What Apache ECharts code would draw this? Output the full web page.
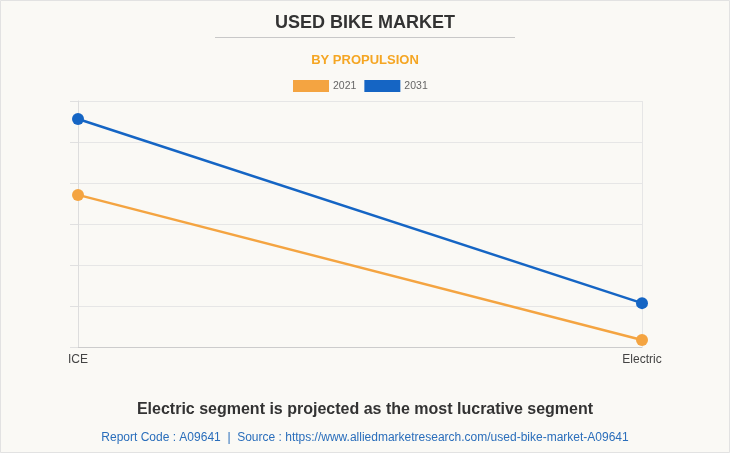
<!DOCTYPE html>
<html><head><meta charset="utf-8">
<script src="https://cdn.jsdelivr.net/npm/echarts@6/dist/echarts.min.js"></script>
<style>html,body{margin:0;padding:0;background:#faf9f5;}#c{width:730px;height:453px;}</style>
</head><body><div id="c"></div>
<script>
const categories = ['ICE', 'Electric'];
const seriesNames = ['2021', '2031'];
const values2021 = [37.1, 1.7];
const values2031 = [55.6, 10.7];
const colors = ['#f4a441', '#1565c4'];

const chart = echarts.init(document.getElementById('c'), null, {renderer: 'canvas'});
chart.setOption({
  backgroundColor: '#faf9f5',
  animation: false,
  title: [
    {text: 'USED BIKE MARKET', left: 'center', top: 9,
     textStyle: {fontFamily: 'Arial, Liberation Sans', fontSize: 18, fontWeight: 'bold', color: '#333'}},
    {text: 'BY PROPULSION', left: 'center', top: 49,
     textStyle: {fontFamily: 'Arial, Liberation Sans', fontSize: 13, fontWeight: 'bold', color: '#f5a623'}},
    {text: 'Electric segment is projected as the most lucrative segment', left: 'center', top: 397,
     textStyle: {fontFamily: 'Arial, Liberation Sans', fontSize: 16, fontWeight: 'bold', color: '#333'}},
    {text: 'Report Code : A09641  |  Source : https://www.alliedmarketresearch.com/used-bike-market-A09641', left: 'center', top: 427,
     textStyle: {fontFamily: 'Arial, Liberation Sans', fontSize: 12, fontWeight: 'normal', color: '#2a6ebb'}}
  ],
  graphic: [
    {type: 'rect', shape: {x: 0.5, y: 0.5, width: 729, height: 452}, style: {fill: 'none', stroke: '#e2e2e2', lineWidth: 1}, silent: true},
    {type: 'line', shape: {x1: 215, y1: 37.5, x2: 515, y2: 37.5}, style: {stroke: '#c8c8c8', lineWidth: 1}}
  ],
  legend: {
    top: 75, left: 288, itemWidth: 36, itemHeight: 12, itemGap: 8,
    icon: 'rect',
    textStyle: {fontFamily: 'Arial, Liberation Sans', fontSize: 10.5, color: '#666', padding: [0, 0, 0, -1]},
    data: seriesNames
  },
  grid: {left: 78, right: 88, top: 101, bottom: 106},
  xAxis: {
    type: 'category', data: categories, boundaryGap: false,
    axisLine: {show: true, lineStyle: {color: '#ccc'}},
    axisTick: {show: false},
    axisLabel: {fontFamily: 'Arial, Liberation Sans', fontSize: 12, color: '#444', margin: 7},
    splitLine: {show: true, lineStyle: {color: '#e6e6e6'}}
  },
  yAxis: {
    type: 'value', min: 0, max: 60, interval: 10,
    axisLine: {show: true, lineStyle: {color: '#ddd'}},
    axisTick: {show: true, length: 8, lineStyle: {color: '#e0e0e0'}},
    axisLabel: {show: false},
    splitLine: {show: true, lineStyle: {color: '#e6e6e6'}}
  },
  series: [
    {name: seriesNames[0], type: 'line', data: values2021, color: colors[0],
     lineStyle: {width: 2.5}, symbol: 'circle', symbolSize: 12},
    {name: seriesNames[1], type: 'line', data: values2031, color: colors[1],
     lineStyle: {width: 2.5}, symbol: 'circle', symbolSize: 12}
  ]
});
</script></body></html>
